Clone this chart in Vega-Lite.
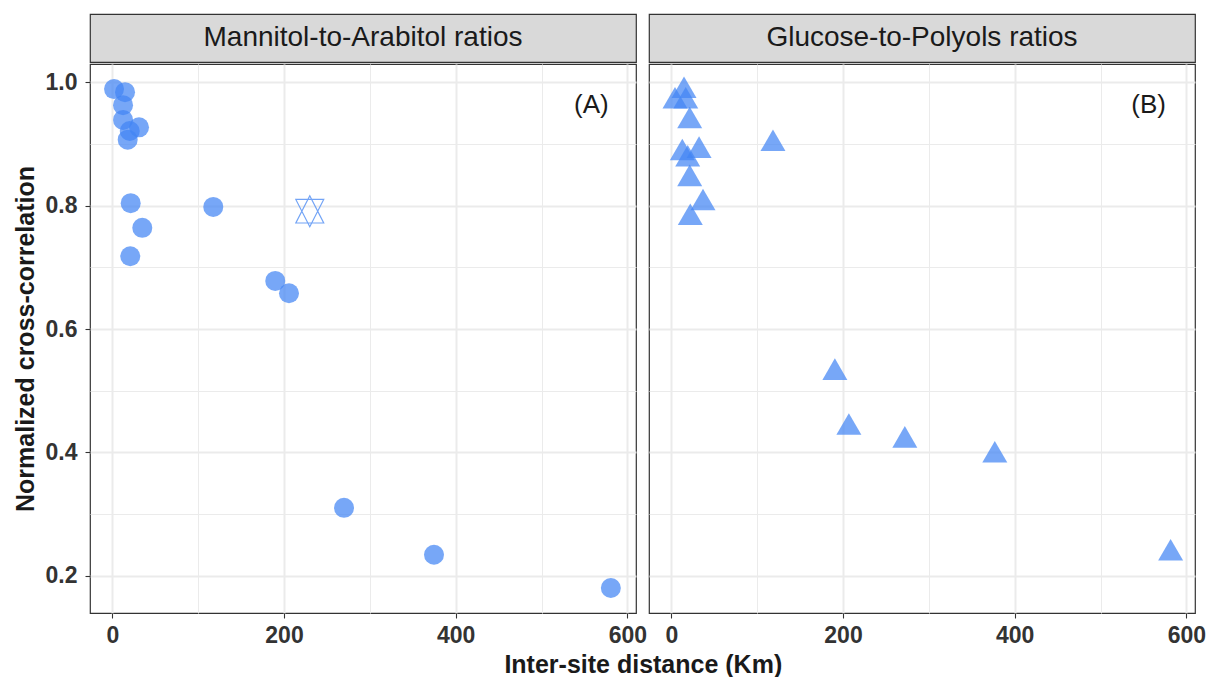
{
  "$schema": "https://vega.github.io/schema/vega-lite/v6.json",
  "padding": {"left": 12, "top": 13, "right": 0, "bottom": 0},
  "background": "white",
  "datasets": {
    "pts": [
      {"panel": "A", "kind": "circle", "dist": 2.0, "corr": 0.989},
      {"panel": "A", "kind": "circle", "dist": 14.8, "corr": 0.984},
      {"panel": "A", "kind": "circle", "dist": 12.5, "corr": 0.963},
      {"panel": "A", "kind": "circle", "dist": 12.5, "corr": 0.939},
      {"panel": "A", "kind": "circle", "dist": 31.1, "corr": 0.927},
      {"panel": "A", "kind": "circle", "dist": 20.3, "corr": 0.921},
      {"panel": "A", "kind": "circle", "dist": 17.9, "corr": 0.907},
      {"panel": "A", "kind": "circle", "dist": 21.4, "corr": 0.804},
      {"panel": "A", "kind": "circle", "dist": 34.9, "corr": 0.764},
      {"panel": "A", "kind": "circle", "dist": 20.9, "corr": 0.718},
      {"panel": "A", "kind": "circle", "dist": 117.6, "corr": 0.798},
      {"panel": "A", "kind": "circle", "dist": 189.8, "corr": 0.678},
      {"panel": "A", "kind": "circle", "dist": 205.8, "corr": 0.658},
      {"panel": "A", "kind": "circle", "dist": 269.9, "corr": 0.310},
      {"panel": "A", "kind": "circle", "dist": 374.7, "corr": 0.234},
      {"panel": "A", "kind": "circle", "dist": 580.7, "corr": 0.180},
      {"panel": "A", "kind": "star", "dist": 230, "corr": 0.791},
      {"panel": "B", "kind": "triangle", "dist": 14.8, "corr": 0.992},
      {"panel": "B", "kind": "triangle", "dist": 4.3, "corr": 0.975},
      {"panel": "B", "kind": "triangle", "dist": 16.8, "corr": 0.975},
      {"panel": "B", "kind": "triangle", "dist": 21.4, "corr": 0.943},
      {"panel": "B", "kind": "triangle", "dist": 118.4, "corr": 0.906},
      {"panel": "B", "kind": "triangle", "dist": 12.8, "corr": 0.891},
      {"panel": "B", "kind": "triangle", "dist": 32.3, "corr": 0.895},
      {"panel": "B", "kind": "triangle", "dist": 19.1, "corr": 0.881},
      {"panel": "B", "kind": "triangle", "dist": 21.4, "corr": 0.849},
      {"panel": "B", "kind": "triangle", "dist": 36.9, "corr": 0.810},
      {"panel": "B", "kind": "triangle", "dist": 22.1, "corr": 0.786},
      {"panel": "B", "kind": "triangle", "dist": 190.5, "corr": 0.535},
      {"panel": "B", "kind": "triangle", "dist": 206.8, "corr": 0.446},
      {"panel": "B", "kind": "triangle", "dist": 272.0, "corr": 0.425},
      {"panel": "B", "kind": "triangle", "dist": 376.8, "corr": 0.401},
      {"panel": "B", "kind": "triangle", "dist": 581.6, "corr": 0.242}
    ],
    "labels": [
      {"panel": "A", "label": "(A)", "dist": 558, "corr": 0.964},
      {"panel": "B", "label": "(B)", "dist": 556, "corr": 0.964}
    ],
    "strips": [
      {"panel": "A", "label": "Mannitol-to-Arabitol ratios"},
      {"panel": "B", "label": "Glucose-to-Polyols ratios"}
    ]
  },
  "title": {
    "text": "Inter-site distance (Km)",
    "orient": "bottom",
    "anchor": "middle",
    "frame": "bounds",
    "font": "Liberation Sans",
    "fontSize": 25,
    "fontWeight": "bold",
    "color": "#1a1a1a",
    "offset": 5,
    "dx": 34
  },
  "spacing": 0,
  "hconcat": [
    {
      "spacing": 0,
      "vconcat": [
        {
          "width": 546,
          "height": 48,
          "view": {"fill": "#d9d9d9", "stroke": "#333333", "strokeWidth": 1.2},
          "data": {"name": "strips"},
          "transform": [{"filter": "datum.panel === 'A'"}],
          "mark": {"type": "text", "font": "Liberation Sans", "fontSize": 28, "color": "#1a1a1a", "align": "center", "baseline": "middle"},
          "encoding": {"text": {"field": "label", "type": "nominal"}}
        },
        {
          "width": 546,
          "height": 549,
          "view": {"stroke": "#333333", "strokeWidth": 1.2},
          "layer": [
            {
              "data": {"name": "pts"},
              "transform": [{"filter": "datum.panel === 'A' && datum.kind === 'circle'"}],
              "mark": {"type": "point", "shape": "circle", "filled": true, "size": 400, "color": "#4285f4", "opacity": 0.72, "strokeWidth": 0},
              "encoding": {
                "x": {
                  "field": "dist", "type": "quantitative",
                  "scale": {"domain": [-26, 610], "nice": false, "zero": false},
                  "axis": {
                    "title": null,
                    "values": [0, 100, 200, 300, 400, 500, 600],
                    "format": "d",
                    "labelExpr": "datum.value % 200 === 0 ? datum.label : ''",
                    "gridWidth": {"condition": {"test": "datum.value % 200 === 0", "value": 2}, "value": 1},
                    "tickColor": {"condition": {"test": "datum.value % 200 === 0", "value": "#333333"}, "value": "transparent"}
                  }
                },
                "y": {
                  "field": "corr", "type": "quantitative",
                  "scale": {"domain": [0.1395, 1.0297], "nice": false, "zero": false},
                  "axis": {
                    "title": "Normalized cross-correlation",
                    "values": [0.2, 0.3, 0.4, 0.5, 0.6, 0.7, 0.8, 0.9, 1.0],
                    "labelExpr": "round(datum.value * 10) % 2 === 0 ? format(datum.value, '.1f') : ''",
                    "gridWidth": {"condition": {"test": "round(datum.value * 10) % 2 === 0", "value": 2}, "value": 1},
                    "tickColor": {"condition": {"test": "round(datum.value * 10) % 2 === 0", "value": "#333333"}, "value": "transparent"},
                    "labelPadding": 8,
                    "titlePadding": 7
                  }
                }
              }
            },
            {
              "data": {"name": "pts"},
              "transform": [{"filter": "datum.panel === 'A' && datum.kind === 'star'"}],
              "mark": {"type": "point", "shape": "M0,-1L0.9,0.76L-0.9,0.76Z M0,1L0.9,-0.76L-0.9,-0.76Z", "filled": false, "size": 961, "color": "#5b95f5", "opacity": 0.85, "strokeWidth": 1.2},
              "encoding": {
                "x": {"field": "dist", "type": "quantitative"},
                "y": {"field": "corr", "type": "quantitative"}
              }
            },
            {
              "data": {"name": "labels"},
              "transform": [{"filter": "datum.panel === 'A'"}],
              "mark": {"type": "text", "font": "Liberation Sans", "fontSize": 26, "color": "#1a1a1a", "align": "center", "baseline": "middle"},
              "encoding": {
                "x": {"field": "dist", "type": "quantitative"},
                "y": {"field": "corr", "type": "quantitative"},
                "text": {"field": "label", "type": "nominal"}
              }
            }
          ]
        }
      ]
    },
    {
      "spacing": 0,
      "vconcat": [
        {
          "width": 546,
          "height": 48,
          "view": {"fill": "#d9d9d9", "stroke": "#333333", "strokeWidth": 1.2},
          "data": {"name": "strips"},
          "transform": [{"filter": "datum.panel === 'B'"}],
          "mark": {"type": "text", "font": "Liberation Sans", "fontSize": 28, "color": "#1a1a1a", "align": "center", "baseline": "middle"},
          "encoding": {"text": {"field": "label", "type": "nominal"}}
        },
        {
          "width": 546,
          "height": 549,
          "view": {"stroke": "#333333", "strokeWidth": 1.2},
          "layer": [
            {
              "data": {"name": "pts"},
              "transform": [{"filter": "datum.panel === 'B'"}],
              "mark": {"type": "point", "shape": "triangle-up", "filled": true, "size": 625, "color": "#4285f4", "opacity": 0.72, "strokeWidth": 0},
              "encoding": {
                "x": {
                  "field": "dist", "type": "quantitative",
                  "scale": {"domain": [-26, 610], "nice": false, "zero": false},
                  "axis": {
                    "title": null,
                    "values": [0, 100, 200, 300, 400, 500, 600],
                    "format": "d",
                    "labelExpr": "datum.value % 200 === 0 ? datum.label : ''",
                    "gridWidth": {"condition": {"test": "datum.value % 200 === 0", "value": 2}, "value": 1},
                    "tickColor": {"condition": {"test": "datum.value % 200 === 0", "value": "#333333"}, "value": "transparent"}
                  }
                },
                "y": {
                  "field": "corr", "type": "quantitative",
                  "scale": {"domain": [0.1395, 1.0297], "nice": false, "zero": false},
                  "axis": {
                    "title": null,
                    "labels": false,
                    "ticks": false,
                    "values": [0.2, 0.3, 0.4, 0.5, 0.6, 0.7, 0.8, 0.9, 1.0],
                    "gridWidth": {"condition": {"test": "round(datum.value * 10) % 2 === 0", "value": 2}, "value": 1}
                  }
                }
              }
            },
            {
              "data": {"name": "labels"},
              "transform": [{"filter": "datum.panel === 'B'"}],
              "mark": {"type": "text", "font": "Liberation Sans", "fontSize": 26, "color": "#1a1a1a", "align": "center", "baseline": "middle"},
              "encoding": {
                "x": {"field": "dist", "type": "quantitative"},
                "y": {"field": "corr", "type": "quantitative"},
                "text": {"field": "label", "type": "nominal"}
              }
            }
          ]
        }
      ]
    }
  ],
  "config": {
    "font": "Liberation Sans",
    "axis": {
      "domain": false,
      "grid": true,
      "gridColor": "#ebebeb",
      "tickSize": 5,
      "tickWidth": 1.1,
      "labelFont": "Liberation Sans",
      "labelFontSize": 23,
      "labelFontWeight": "bold",
      "labelColor": "#333333",
      "labelFlush": false,
      "labelOverlap": false,
      "titleFont": "Liberation Sans",
      "titleFontSize": 25,
      "titleFontWeight": "bold",
      "titleColor": "#1a1a1a"
    },
    "axisX": {"labelPadding": 6}
  }
}
